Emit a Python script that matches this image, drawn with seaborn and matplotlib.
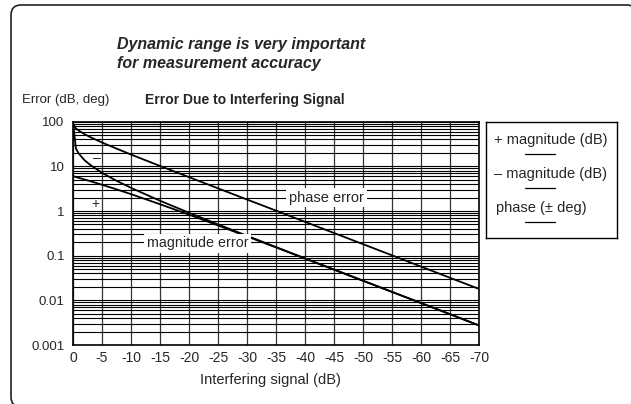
import seaborn as sns
import matplotlib.pyplot as plt
import numpy as np
import pandas as pd
from matplotlib.patches import FancyBboxPatch
from matplotlib.ticker import LogLocator, NullFormatter

# Values (interfering signal level in dB)
x_db = [0, -0.5, -1, -2, -3, -5, -7.5, -10, -15, -20, -25, -30, -35,
        -40, -45, -50, -55, -60, -65, -70]
plus_mag = [6.02, 5.78, 5.53, 5.08, 4.65, 3.87, 3.06, 2.39, 1.42, 0.83, 0.475,
            0.27, 0.153, 0.086, 0.0487, 0.0274, 0.0154, 0.0087, 0.0049, 0.00274]
minus_mag = [100, 25.0, 19.3, 13.7, 10.7, 7.17, 4.76, 3.30, 1.70, 0.915, 0.502,
             0.279, 0.156, 0.0873, 0.049, 0.0276, 0.0155, 0.0087, 0.0049, 0.00275]
phase_deg = [90, 70.7, 63, 52.6, 45, 34.2, 25, 18.4, 10.2, 5.74, 3.22,
             1.81, 1.02, 0.573, 0.322, 0.181, 0.102, 0.057, 0.032, 0.018]

x_ticks = list(range(0, -75, -5))
y_ticks = [100, 10, 1, 0.1, 0.01, 0.001]
y_tick_labels = ['100', '10', '1', '0.1', '0.01', '0.001']

legend_items = ['+ magnitude (dB)', '\u2013 magnitude (dB)', 'phase (\u00b1 deg)']

df = pd.DataFrame({'x': x_db * 3,
                   'y': plus_mag + minus_mag + phase_deg,
                   'curve': ['plus'] * len(x_db) + ['minus'] * len(x_db) + ['phase'] * len(x_db)})

sns.set_style("white")
plt.rcParams['font.family'] = ['Liberation Sans', 'DejaVu Sans']

W, H = 631, 404
fig = plt.figure(figsize=(W / 100, H / 100), dpi=100)

# rounded outer frame (right and bottom edges run off the picture)
bg = fig.add_axes([0, 0, 1, 1], zorder=-1)
bg.set_xlim(0, W)
bg.set_ylim(H, 0)
bg.axis('off')
bg.add_patch(FancyBboxPatch((11, 5), 626, 402, boxstyle="round,pad=0,rounding_size=10",
                            fc='white', ec='#222222', lw=1.2, clip_on=False))

# main plot
ax = fig.add_axes([73 / W, 1 - 345 / H, (479 - 73) / W, (345 - 121.7) / H])
for name in ['plus', 'minus', 'phase']:
    sns.lineplot(data=df[df['curve'] == name], x='x', y='y', color='black',
                 lw=1.3, ax=ax, legend=False, sort=False, zorder=3)

ax.set_yscale('log')
ax.set_xlim(0, -70)
ax.set_ylim(0.001, 100)
ax.set_xticks(x_ticks)
ax.set_xticklabels([str(t) for t in x_ticks])
ax.set_yticks(y_ticks)
ax.set_yticklabels(y_tick_labels)
ax.yaxis.set_minor_locator(LogLocator(base=10, subs=range(2, 10)))
ax.yaxis.set_minor_formatter(NullFormatter())
ax.grid(True, which='both', axis='y', color='black', lw=0.8)
ax.grid(True, which='major', axis='x', color='#333333', lw=0.9)
ax.tick_params(axis='both', which='both', length=0)
ax.tick_params(axis='y', pad=6, labelsize=9.5)
ax.tick_params(axis='x', pad=4, labelsize=10)
for s in ax.spines.values():
    s.set_color('black')
    s.set_linewidth(1.2)
ax.set_xlabel('')
ax.set_ylabel('')

# curve labels
box = dict(fc='white', ec='none', pad=2)
ax.text(-43.7, 2.0, 'phase error', fontsize=10.5, ha='center', va='center', bbox=box, zorder=4)
ax.text(-21.5, 0.19, 'magnitude error', fontsize=10.3, ha='center', va='center', bbox=box, zorder=4)
ax.text(-4.1, 15.5, '\u2013', fontsize=10, ha='center', va='center', zorder=4)
ax.text(-3.8, 1.46, '+', fontsize=10, ha='center', va='center', zorder=4)

# headings
fig.text(117 / W, 1 - 54 / H, 'Dynamic range is very important\nfor measurement accuracy',
         fontsize=11.5, fontweight='bold', fontstyle='italic', ha='left', va='center',
         linespacing=1.35)
fig.text(22 / W, 1 - 100 / H, 'Error (dB, deg)', fontsize=9.5, ha='left', va='center')
fig.text(145 / W, 1 - 100 / H, 'Error Due to Interfering Signal', fontsize=10,
         fontweight='bold', ha='left', va='center')
fig.text(270 / W, 1 - 380 / H, 'Interfering signal (dB)', fontsize=10.5, ha='center', va='center')

# legend box
lg = fig.add_axes([486 / W, 1 - 237.7 / H, 131 / W, 116 / H])
lg.set_xlim(0, 131)
lg.set_ylim(116, 0)
lg.set_xticks([])
lg.set_yticks([])
for s in lg.spines.values():
    s.set_color('black')
    s.set_linewidth(1.0)
for i, label in enumerate(legend_items):
    y0 = 18.3 + i * 34
    lg.text(8 if i < 2 else 10, y0, label, fontsize=10.5, ha='left', va='center')
    lg.plot([39, 69], [y0 + 14, y0 + 14], color='black', lw=0.9)

plt.savefig('out.png', dpi=100)
